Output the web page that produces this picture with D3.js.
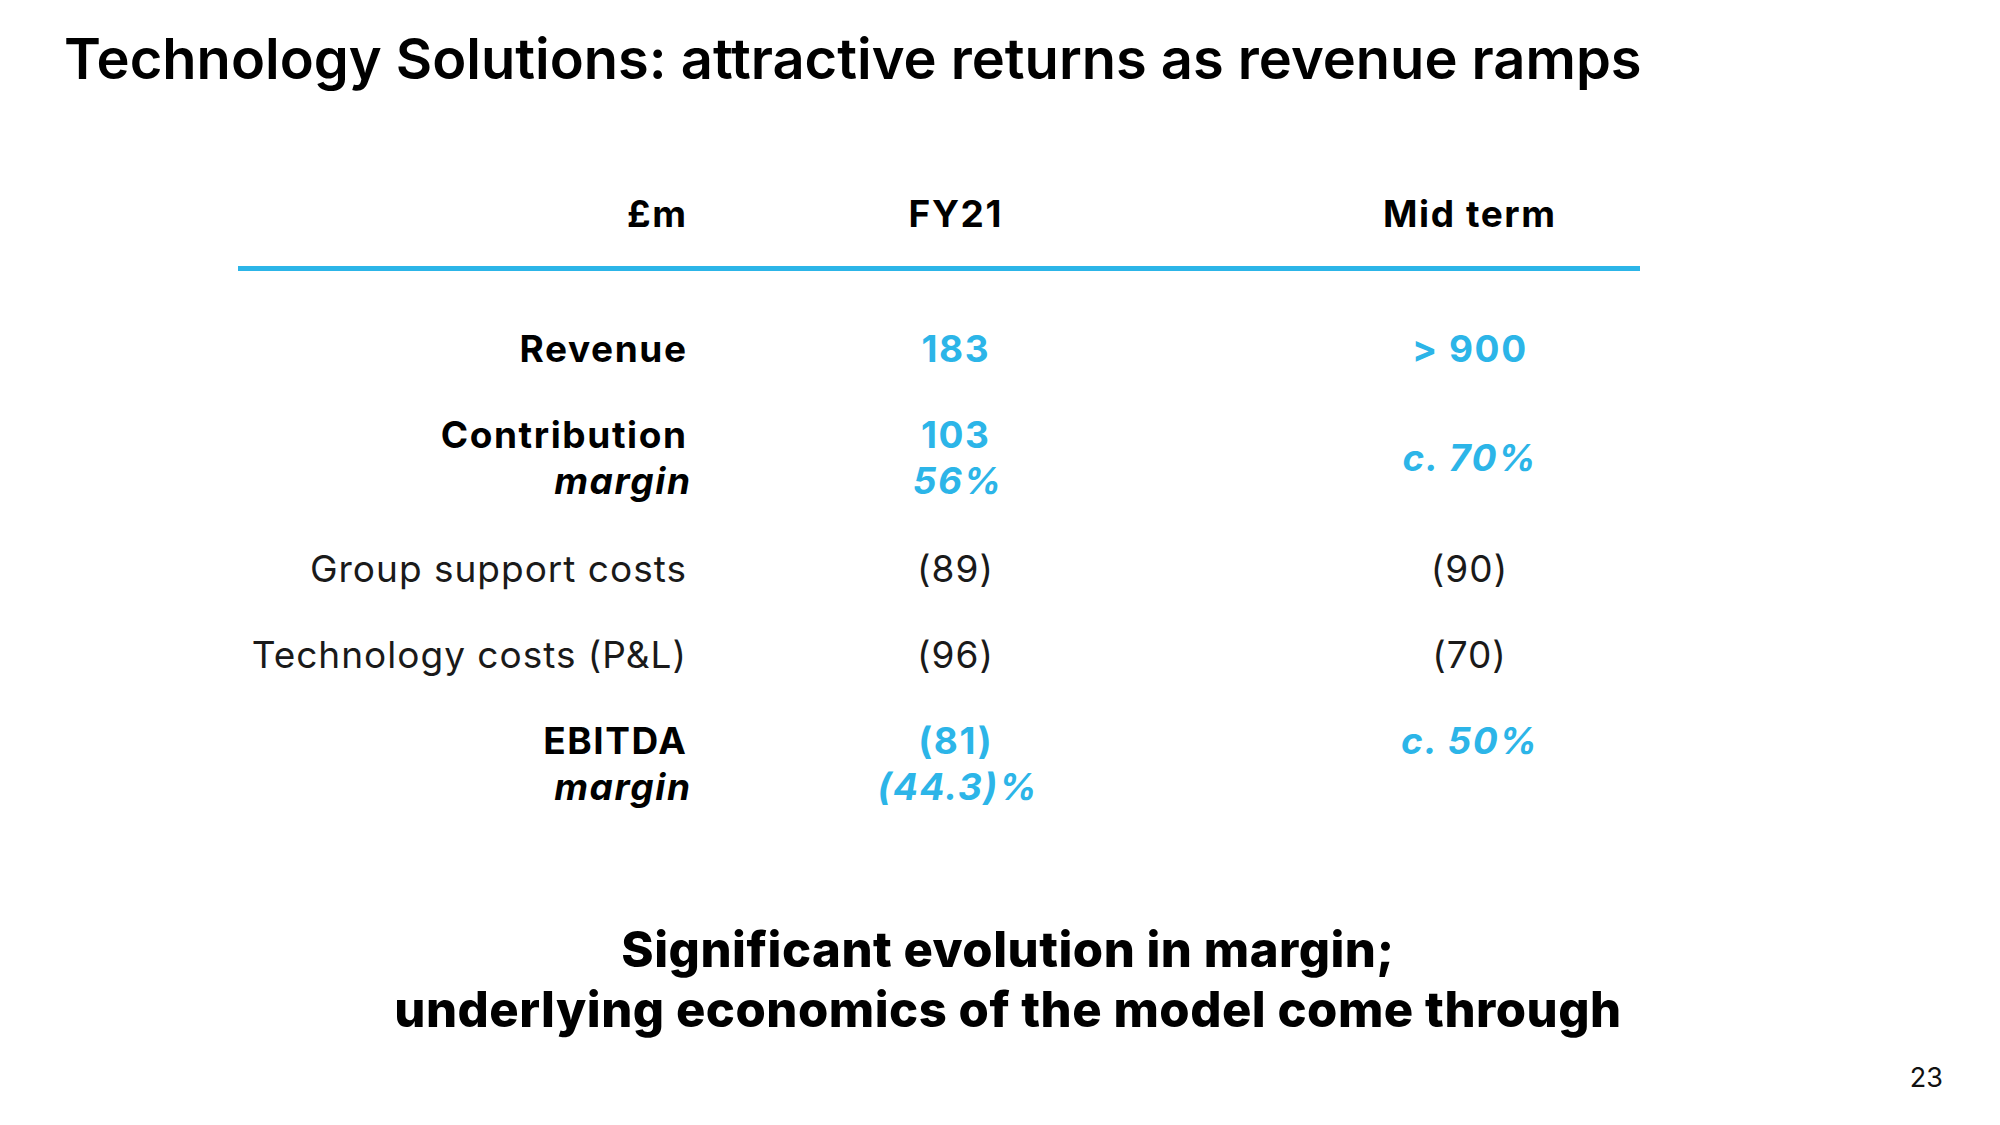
<!DOCTYPE html>
<html>
<head>
<meta charset="utf-8">
<script src="https://cdn.jsdelivr.net/npm/d3@7"></script>
<style>
html,body{margin:0;padding:0;background:#fff;}
svg{display:block;font-family:Inter, "Noto Sans", sans-serif;}
</style>
</head>
<body>
<svg id="chart" width="2000" height="1125"></svg>
<script>
const titleText = "Technology Solutions: attractive returns as revenue ramps";
const columnHeaders = ["£m", "FY21", "Mid term"];
const rowLabels = ["Revenue", "Contribution", "Group support costs", "Technology costs (P&L)", "EBITDA"];
const rowSubLabels = ["", "margin", "", "", "margin"];
const rowEmphasis = [true, true, false, false, true];
const fy21Values = ["183", "103", "(89)", "(96)", "(81)"];
const fy21Sub = ["", "56%", "", "", "(44.3)%"];
const midTermValues = ["> 900", "c. 70%", "(90)", "(70)", "c. 50%"];
const midTermItalic = [false, true, false, false, true];
const midTermCentered = [false, true, false, false, false];
const footerLines = ["Significant evolution in margin;", "underlying economics of the model come through"];
const pageNumber = "23";

const BLUE = "#2cb5e8";
const FS = 37, LS_B = 1.6, LS_R = 1.0;
const svg = d3.select("#chart");

// title
svg.append("text").attr("x", 64).attr("y", 79)
  .attr("font-size", 56).attr("font-weight", 600).attr("fill", "#000")
  .attr("letter-spacing", 0)
  .text(titleText);

// column positions
const xCol = d3.scaleOrdinal().domain(["label", "fy21", "mid"]).range([686, 955, 1469]);
const anchorCol = {label: "end", fy21: "middle", mid: "middle"};

// header
const headerKeys = ["label", "fy21", "mid"];
svg.selectAll("text.hdr").data(columnHeaders).join("text")
  .attr("class", "hdr")
  .attr("x", (d, i) => xCol(headerKeys[i]) + (headerKeys[i] === "label" ? LS_B : LS_B / 2))
  .attr("y", 227)
  .attr("text-anchor", (d, i) => anchorCol[headerKeys[i]])
  .attr("font-size", FS).attr("font-weight", 700).attr("fill", "#000")
  .attr("letter-spacing", LS_B)
  .text(d => d);

// rule
svg.append("line").attr("x1", 238).attr("x2", 1640).attr("y1", 268.5).attr("y2", 268.5)
  .attr("stroke", BLUE).attr("stroke-width", 5);

// rows
const rowGap = 86, subGap = 46, extraGap = 48;
const rowY = [];
let y = 362;
rowLabels.forEach((d, i) => {
  rowY.push(y);
  y += rowGap + (rowSubLabels[i] ? extraGap : 0);
});

const rows = rowLabels.map((d, i) => ({
  label: d, sub: rowSubLabels[i], bold: rowEmphasis[i],
  fy: fy21Values[i], fySub: fy21Sub[i], mid: midTermValues[i],
  midItalic: midTermItalic[i], midCentered: midTermCentered[i], y: rowY[i]
}));

const g = svg.append("g");
rows.forEach(r => {
  const ls = r.bold ? LS_B : LS_R;
  g.append("text").attr("x", xCol("label") + ls).attr("y", r.y).attr("text-anchor", "end")
    .attr("font-size", FS).attr("font-weight", r.bold ? 700 : 400).attr("letter-spacing", ls)
    .attr("fill", r.bold ? "#000" : "#1a1a1a").text(r.label);
  if (r.sub) {
    g.append("text").attr("x", xCol("label") + 4 + LS_B).attr("y", r.y + subGap).attr("text-anchor", "end")
      .attr("font-size", FS).attr("font-weight", 700).attr("font-style", "italic").attr("letter-spacing", LS_B)
      .attr("fill", "#000").text(r.sub);
  }
  g.append("text").attr("x", xCol("fy21") + ls / 2).attr("y", r.y).attr("text-anchor", "middle")
    .attr("font-size", FS).attr("font-weight", r.bold ? 700 : 400).attr("letter-spacing", ls)
    .attr("fill", r.bold ? BLUE : "#1a1a1a").text(r.fy);
  if (r.fySub) {
    g.append("text").attr("x", xCol("fy21") + 2 + LS_B / 2).attr("y", r.y + subGap).attr("text-anchor", "middle")
      .attr("font-size", FS).attr("font-weight", 700).attr("font-style", "italic").attr("letter-spacing", LS_B)
      .attr("fill", BLUE).text(r.fySub);
  }
  g.append("text").attr("x", xCol("mid") + ls / 2).attr("y", r.midCentered ? r.y + subGap / 2 : r.y)
    .attr("text-anchor", "middle")
    .attr("font-size", FS).attr("font-weight", r.bold ? 700 : 400).attr("letter-spacing", ls)
    .attr("font-style", r.midItalic ? "italic" : "normal")
    .attr("fill", r.bold ? BLUE : "#1a1a1a").text(r.mid);
});

// footer
svg.selectAll("text.foot").data(footerLines).join("text")
  .attr("class", "foot")
  .attr("x", 1008).attr("y", (d, i) => 967 + i * 60)
  .attr("text-anchor", "middle")
  .attr("font-size", 49).attr("font-weight", 800).attr("fill", "#000")
  .attr("letter-spacing", 0.5)
  .text(d => d);

svg.append("text").attr("x", 1943).attr("y", 1087).attr("text-anchor", "end")
  .attr("font-size", 27).attr("fill", "#111").text(pageNumber);
</script>
</body>
</html>
